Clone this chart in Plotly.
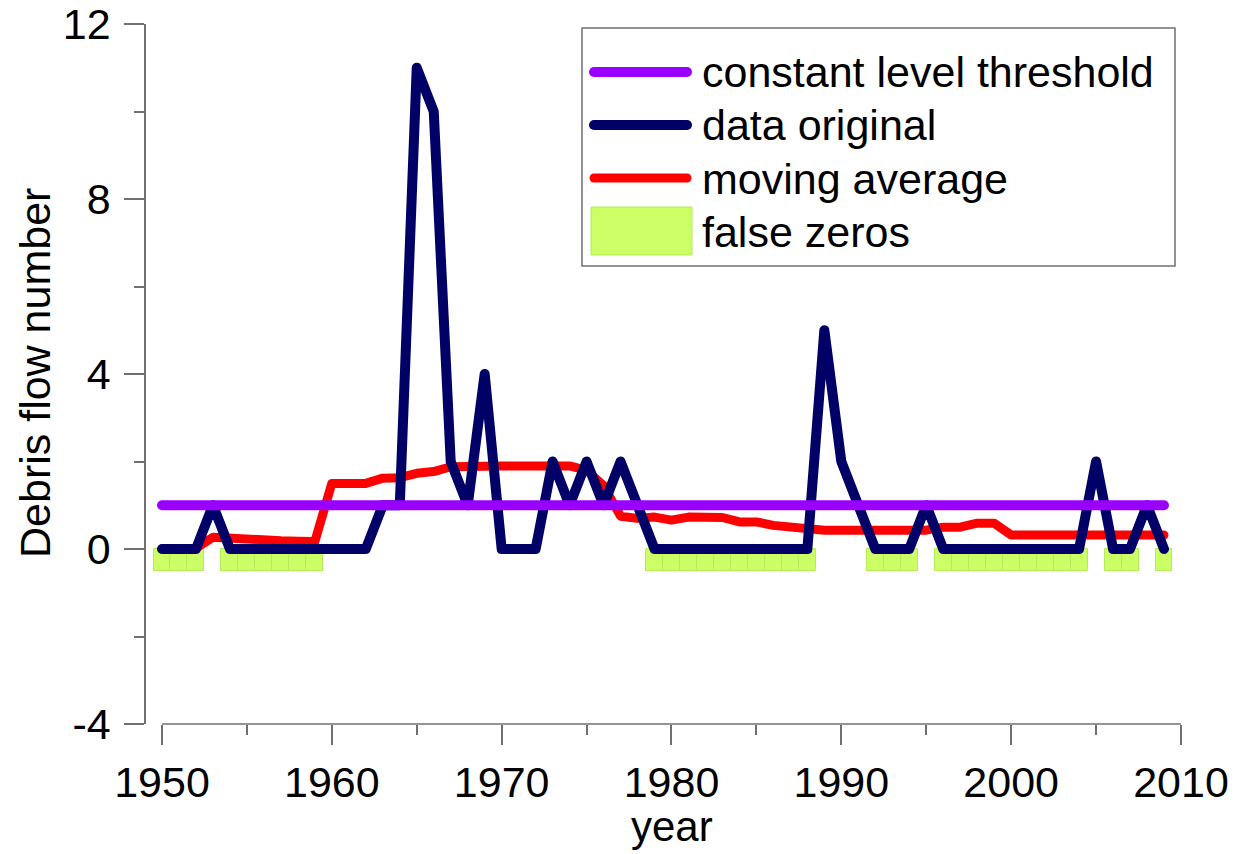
import plotly.graph_objects as go

# ---- data -------------------------------------------------------------
years = list(range(1950, 2010))

debris_flows = [
    0, 0, 0, 1, 0, 0, 0, 0, 0, 0,      # 1950s
    0, 0, 0, 1, 1, 11, 10, 2, 1, 4,    # 1960s
    0, 0, 0, 2, 1, 2, 1, 2, 1, 0,      # 1970s
    0, 0, 0, 0, 0, 0, 0, 0, 0, 5,      # 1980s
    2, 1, 0, 0, 0, 1, 0, 0, 0, 0,      # 1990s
    0, 0, 0, 0, 0, 2, 0, 0, 1, 0,      # 2000s
]

moving_average = [
    0.0, 0.0, 0.02, 0.27, 0.24, 0.22, 0.20, 0.19, 0.18, 0.17,
    1.50, 1.50, 1.50, 1.62, 1.63, 1.73, 1.77, 1.88, 1.90, 1.90,
    1.90, 1.90, 1.90, 1.90, 1.90, 1.80, 1.45, 0.75, 0.70, 0.73,
    0.66, 0.73, 0.73, 0.72, 0.62, 0.62, 0.54, 0.51, 0.43, 0.43,
    0.43, 0.43, 0.43, 0.43, 0.43, 0.43, 0.50, 0.50, 0.59, 0.59,
    0.32, 0.32, 0.32, 0.32, 0.32, 0.32, 0.32, 0.32, 0.32, 0.32,
]

threshold_level = 1

false_zero_years = (
    [1950, 1951, 1952]
    + list(range(1954, 1960))
    + list(range(1979, 1989))
    + [1992, 1993, 1994]
    + list(range(1996, 2005))
    + [2006, 2007, 2009]
)

legend_labels = ["constant level threshold", "data original",
                 "moving average", "false zeros"]

y_tick_values = [-4, 0, 4, 8, 12]
y_tick_labels = ["-4", "0", "4", "8", "12"]

# ---- styling ------------------------------------------------------------
PURPLE = "rgb(153,0,255)"
NAVY = "rgb(0,0,102)"
RED = "rgb(255,0,0)"
GREEN = "rgb(204,255,102)"
GREEN_EDGE = "rgb(180,235,90)"
AXIS = "#707070"
FONT = "Liberation Sans, Arial, sans-serif"

W, H = 1247, 854
L, R, T, B = 146, 66, 24, 130
PW, PH = W - L - R, H - T - B


def px(x):
    return (x - L) / PW


def py(y):
    return (T + PH - y) / PH


fig = go.Figure()

# false-zero markers: a thin band just below zero for each flagged year
fig.add_trace(go.Bar(
    x=false_zero_years, y=[-0.5] * len(false_zero_years), width=1,
    marker=dict(color=GREEN, line=dict(color=GREEN_EDGE, width=1)),
    name=legend_labels[3], showlegend=False, hoverinfo="skip",
))

fig.add_trace(go.Scatter(
    x=years, y=moving_average, mode="lines",
    line=dict(color=RED, width=9), name=legend_labels[2], showlegend=False,
))

fig.add_trace(go.Scatter(
    x=years, y=debris_flows, mode="lines",
    line=dict(color=NAVY, width=10), name=legend_labels[1], showlegend=False,
))

fig.add_trace(go.Scatter(
    x=[years[0], years[-1]], y=[threshold_level, threshold_level], mode="lines",
    line=dict(color=PURPLE, width=10), name=legend_labels[0], showlegend=False,
))

shapes = []
# detached x-axis baseline spanning 1950-2010
shapes.append(dict(type="line", xref="x", yref="paper", x0=1950, x1=2010,
                   y0=0, y1=0, line=dict(color=AXIS, width=1.5)))

# legend frame
shapes.append(dict(type="rect", xref="paper", yref="paper",
                   x0=px(582), x1=px(1175), y0=py(266), y1=py(28),
                   line=dict(color=AXIS, width=1.5), fillcolor="white",
                   layer="above"))

legend_rows = [72, 125, 178]
for yy, col, w in zip(legend_rows, [PURPLE, NAVY, RED], [10, 10, 9]):
    shapes.append(dict(type="line", xref="paper", yref="paper",
                       x0=px(594), x1=px(687), y0=py(yy), y1=py(yy),
                       line=dict(color=col, width=w), layer="above"))
shapes.append(dict(type="rect", xref="paper", yref="paper",
                   x0=px(591), x1=px(692), y0=py(255), y1=py(207),
                   fillcolor=GREEN, line=dict(color=GREEN_EDGE, width=1),
                   layer="above"))

annotations = []
for yy, label in zip([72, 125, 179, 232], legend_labels):
    annotations.append(dict(
        xref="paper", yref="paper", x=px(700), y=py(yy),
        xanchor="left", yanchor="middle", showarrow=False, text=label,
        font=dict(family=FONT, size=43, color="black"),
    ))

annotations.append(dict(
    xref="paper", yref="paper", x=px(35), y=py(373), textangle=-90,
    xanchor="center", yanchor="middle", showarrow=False,
    text="Debris flow number", font=dict(family=FONT, size=43, color="black"),
))
annotations.append(dict(
    xref="paper", yref="paper", x=px(672), y=py(826),
    xanchor="center", yanchor="middle", showarrow=False,
    text="year", font=dict(family=FONT, size=42, color="black"),
))

fig.update_layout(
    width=W, height=H,
    margin=dict(l=L, r=R, t=T, b=B, pad=0, autoexpand=False),
    paper_bgcolor="white", plot_bgcolor="white",
    showlegend=False, bargap=0,
    font=dict(family=FONT, size=43, color="black"),
    shapes=shapes, annotations=annotations,
    xaxis=dict(
        range=[1950 - 16 * 60 / 1019, 2010.001], automargin=False,
        showline=False, showgrid=False, zeroline=False,
        tickmode="linear", tick0=1950, dtick=10,
        ticks="outside", ticklen=20, tickwidth=1.5, tickcolor=AXIS,
        minor=dict(tickmode="linear", tick0=1950, dtick=5, ticks="outside",
                   ticklen=10, tickwidth=1.5, tickcolor=AXIS),
        tickfont=dict(family=FONT, size=43, color="black"),
        ticklabelstandoff=0,
    ),
    yaxis=dict(
        range=[-4, 12], automargin=False,
        showline=True, linecolor=AXIS, linewidth=1.5,
        showgrid=False, zeroline=False,
        tickmode="array", tickvals=y_tick_values, ticktext=y_tick_labels,
        ticks="outside", ticklen=20, tickwidth=1.5, tickcolor=AXIS,
        minor=dict(tickmode="linear", tick0=-4, dtick=2, ticks="outside",
                   ticklen=10, tickwidth=1.5, tickcolor=AXIS),
        tickfont=dict(family=FONT, size=43, color="black"),
        ticklabelstandoff=5,
    ),
)

# rounded joins and caps on the thick lines
round_lines = """
var gd = document.getElementById('{plot_id}');
function roundify() {
  gd.querySelectorAll('.scatterlayer path.js-line').forEach(function (p) {
    p.style.strokeLinejoin = 'round';
    p.style.strokeLinecap = 'round';
  });
  gd.querySelectorAll('.shapelayer path').forEach(function (p) {
    if (parseFloat(p.style.strokeWidth) >= 8) {
      p.style.strokeLinecap = 'round';
    }
  });
}
roundify();
gd.on('plotly_afterplot', roundify);
"""

fig.write_html("out.html", post_script=round_lines)
